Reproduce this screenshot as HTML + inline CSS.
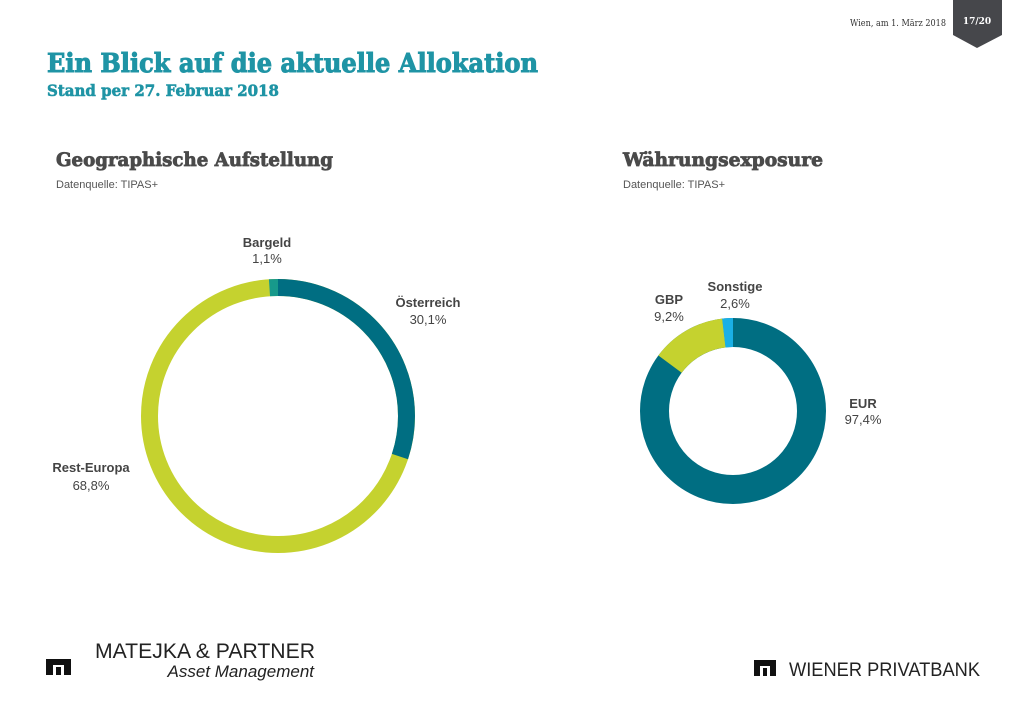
<!DOCTYPE html>
<html><head><meta charset="utf-8"><style>body{margin:0;background:#fff}svg{display:block}
.sb{font-family:"DejaVu Serif","Liberation Serif",serif;font-weight:bold}
.s{font-family:"Liberation Sans",sans-serif}
</style></head>
<body>
<svg width="1024" height="724" viewBox="0 0 1024 724" xmlns="http://www.w3.org/2000/svg">
<rect width="1024" height="724" fill="#fff"/>
<text x="946" y="26" style="font-family:'DejaVu Serif',serif;font-size:9px" fill="#333" text-anchor="end" textLength="96" lengthAdjust="spacingAndGlyphs">Wien, am 1. März 2018</text>
<polygon points="953,0 1002,0 1002,35 977,48 953,35" fill="#46474b"/>
<text x="977" y="24" class="sb" style="font-size:9px" fill="#fff" text-anchor="middle">17/20</text>
<text x="47" y="72" class="sb" style="font-size:26px" fill="#1f94a5" stroke="#1f94a5" stroke-width="1" textLength="491" lengthAdjust="spacingAndGlyphs">Ein Blick auf die aktuelle Allokation</text>
<text x="47" y="96" class="sb" style="font-size:16px" fill="#1f94a5" stroke="#1f94a5" stroke-width="0.6" textLength="232" lengthAdjust="spacingAndGlyphs">Stand per 27. Februar 2018</text>
<text x="56" y="166" class="sb" style="font-size:19px" fill="#4a4a4a" stroke="#4a4a4a" stroke-width="0.8" textLength="277" lengthAdjust="spacingAndGlyphs">Geographische Aufstellung</text>
<text x="56" y="188" class="s" style="font-size:11px" fill="#555">Datenquelle: TIPAS+</text>
<text x="623" y="166" class="sb" style="font-size:19px" fill="#4a4a4a" stroke="#4a4a4a" stroke-width="0.8" textLength="200" lengthAdjust="spacingAndGlyphs">Währungsexposure</text>
<text x="623" y="188" class="s" style="font-size:11px" fill="#555">Datenquelle: TIPAS+</text>

<g transform="rotate(-90 278 416)" fill="none" stroke-width="17">
<circle cx="278" cy="416" r="128.5" stroke="#c5d22f"/>
<circle cx="278" cy="416" r="128.5" stroke="#006e82" stroke-dasharray="243.0 1000"/>
<circle cx="278" cy="416" r="128.5" stroke="#17998b" stroke-dasharray="9 1000" stroke-dashoffset="-798.5"/>
</g>
<g transform="rotate(-90 733 411)" fill="none" stroke-width="29">
<circle cx="733" cy="411" r="78.5" stroke="#006e82"/>
<circle cx="733" cy="411" r="78.5" stroke="#c5d22f" stroke-dasharray="64 1000" stroke-dashoffset="-420"/>
<circle cx="733" cy="411" r="78.5" stroke="#1ab0e6" stroke-dasharray="9.6 1000" stroke-dashoffset="-483.8"/>
</g>

<g class="s" style="font-size:13px" fill="#444" text-anchor="middle">
<text x="267" y="247" font-weight="bold">Bargeld</text><text x="267" y="263">1,1%</text>
<text x="428" y="307" font-weight="bold">Österreich</text><text x="428" y="324">30,1%</text>
<text x="91" y="472" font-weight="bold">Rest-Europa</text><text x="91" y="490">68,8%</text>
<text x="669" y="304" font-weight="bold">GBP</text><text x="669" y="321">9,2%</text>
<text x="735" y="291" font-weight="bold">Sonstige</text><text x="735" y="308">2,6%</text>
<text x="863" y="408" font-weight="bold">EUR</text><text x="863" y="424">97,4%</text>
</g>

<rect x="46" y="659" width="25" height="16" fill="#111"/>
<rect x="53" y="665" width="11" height="10" fill="#fff"/>
<rect x="56" y="667" width="5" height="8" fill="#111"/>
<text x="95" y="658" class="s" style="font-size:21px" fill="#222" textLength="220" lengthAdjust="spacingAndGlyphs">MATEJKA &amp; PARTNER</text>
<text x="314" y="677" class="s" style="font-size:17px;font-style:italic" fill="#222" text-anchor="end">Asset Management</text>

<rect x="754" y="660" width="22" height="16" fill="#111"/>
<rect x="760" y="666" width="10" height="10" fill="#fff"/>
<rect x="763" y="668" width="4" height="8" fill="#111"/>
<text x="789" y="676" class="s" style="font-size:19px" fill="#222" textLength="191" lengthAdjust="spacingAndGlyphs">WIENER PRIVATBANK</text>
</svg>
</body></html>
